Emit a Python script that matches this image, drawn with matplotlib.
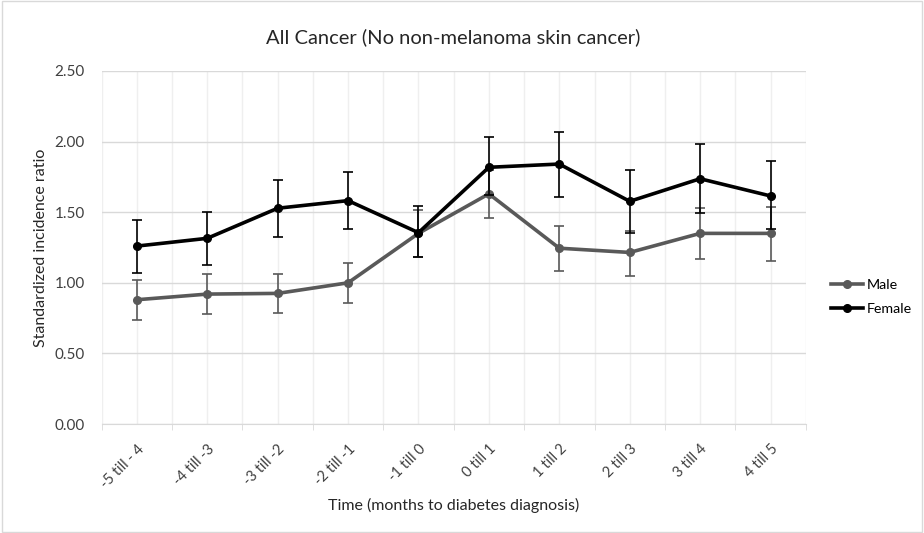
import numpy as np
import matplotlib.pyplot as plt
from matplotlib.lines import Line2D

plt.rcParams['font.family'] = ['Lato', 'DejaVu Sans']

# ---------------- data ----------------
periods = ["-5 till - 4", "-4 till -3", "-3 till -2", "-2 till -1", "-1 till 0",
           "0 till 1", "1 till 2", "2 till 3", "3 till 4", "4 till 5"]

male = [0.88, 0.92, 0.925, 1.00, 1.35, 1.63, 1.245, 1.215, 1.35, 1.35]
male_lo = [0.74, 0.78, 0.785, 0.86, 1.18, 1.457, 1.083, 1.05, 1.166, 1.157]
male_hi = [1.02, 1.062, 1.062, 1.138, 1.515, 1.80, 1.402, 1.37, 1.53, 1.54]

female = [1.26, 1.315, 1.528, 1.582, 1.355, 1.818, 1.841, 1.577, 1.737, 1.615]
female_lo = [1.072, 1.126, 1.327, 1.381, 1.185, 1.62, 1.61, 1.355, 1.494, 1.38]
female_hi = [1.447, 1.50, 1.726, 1.783, 1.545, 2.035, 2.068, 1.797, 1.981, 1.862]

yticks = [0.0, 0.5, 1.0, 1.5, 2.0, 2.5]

# ---------------- figure ----------------
fig = plt.figure(figsize=(9.24, 5.33), dpi=100)
ax = fig.add_axes([0.110, 0.2045, 0.762, 0.6623])

x = np.arange(len(periods))

def draw(vals, lo, hi, color, label, z):
    vals = np.array(vals)
    err = [vals - np.array(lo), np.array(hi) - vals]
    ax.errorbar(x, vals, yerr=err, fmt='none', ecolor=color, elinewidth=1.2,
                capsize=3.5, capthick=1.2, zorder=z)
    ax.plot(x, vals, color=color, lw=2.6, marker='o', ms=5.5, label=label,
            zorder=z + 0.5)

draw(male, male_lo, male_hi, '#595959', 'Male', 3)
draw(female, female_lo, female_hi, '#000000', 'Female', 4)

ax.set_xlim(-0.5, len(periods) - 0.5)
ax.set_ylim(0, 2.5)
ax.set_yticks(yticks)
ax.set_yticklabels(["%.2f" % v for v in yticks], fontsize=11, color='#404040')
ax.set_xticks(x)
ax.set_xticklabels(periods, rotation=45, ha='right', rotation_mode='anchor',
                   fontsize=10.5, color='#404040')
ax.set_xticks(np.arange(-0.5, len(periods)), minor=True)

ax.grid(axis='y', color='#d9d9d9', lw=1)
ax.grid(axis='x', which='both', color='#efefef', lw=1)
ax.set_axisbelow(True)
ax.tick_params(axis='x', which='major', length=0, pad=13)
ax.tick_params(axis='x', which='minor', length=4, color='#d9d9d9')
ax.tick_params(axis='y', length=0, pad=12)

for s in ['top', 'right', 'left']:
    ax.spines[s].set_visible(False)
ax.spines['bottom'].set_color('#d9d9d9')

ax.set_title("All Cancer (No non-melanoma skin cancer)", fontsize=14.5,
             color='#262626', pad=20)
ax.set_ylabel("Standardized incidence ratio", fontsize=11.5, color='#262626',
              labelpad=5)
ax.set_xlabel("Time (months to diabetes diagnosis)", fontsize=11.5,
              color='#262626', labelpad=5)

handles = [Line2D([0], [0], color='#595959', lw=2.6, marker='o', ms=5.5),
           Line2D([0], [0], color='#000000', lw=2.6, marker='o', ms=5.5)]
fig.legend(handles, ['Male', 'Female'], loc='center left',
           bbox_to_anchor=(0.888, 0.443), frameon=False, fontsize=10.3,
           handlelength=2.3, handletextpad=0.2, labelspacing=0.85,
           borderpad=0.2)

# outer chart border
fig.patches.append(plt.Rectangle((0.002, 0.002), 0.996, 0.996,
                                 transform=fig.transFigure, fill=False,
                                 edgecolor='#d9d9d9', lw=1))

fig.savefig('out.png', dpi=100)
